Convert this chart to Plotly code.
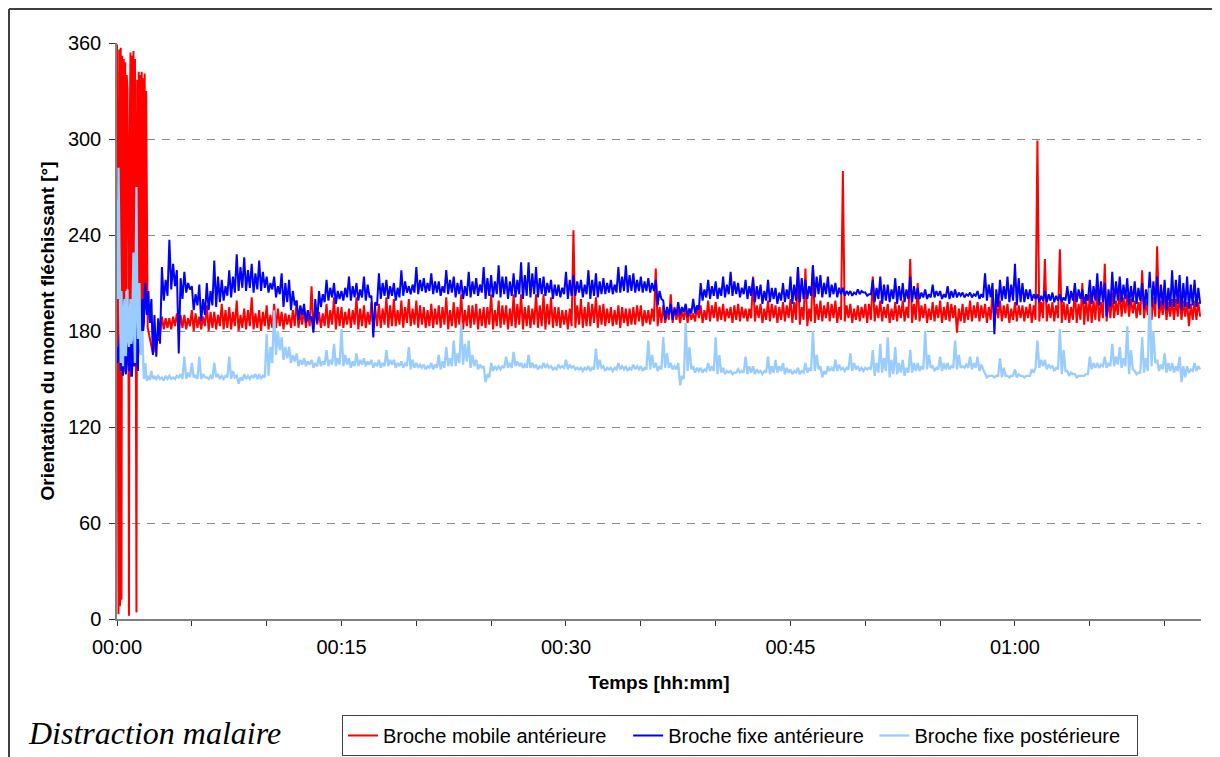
import plotly.graph_objects as go

# ---------------- data (minutes since start, degrees) ----------------
# first 2.5 minutes, read every 0.05 min
time_early = [round(0.05 * i, 2) for i in range(50)]
red_early = [359, 150, 3, 356, 8, 357, 12, 352, 190, 350,
             200, 348, 205, 340, 331, 240, 2, 300, 354, 195,
             352, 200, 355, 195, 350, 205, 4, 337, 200, 342,
             198, 340, 196, 342, 200, 338, 195, 341, 198, 330,
             185, 182, 180, 177, 175, 172, 170, 168, 166, 167]
blue_early = [170, 160, 165, 175, 178, 155, 205, 160, 152, 190,
              200, 155, 153, 185, 190, 160, 155, 180, 185, 152,
              152, 170, 188, 158, 160, 190, 195, 160, 155, 200,
              202, 170, 165, 195, 200, 180, 185, 205, 210, 195,
              190, 200, 205, 190, 185, 195, 200, 180, 165, 175]
lightblue_early = [262, 200, 282, 230, 175, 160, 205, 170, 158, 190,
                   200, 165, 165, 195, 206, 175, 170, 190, 200, 172,
                   175, 200, 229, 180, 160, 220, 270, 200, 175, 190,
                   210, 170, 165, 175, 180, 160, 150, 155, 160, 152,
                   149, 150, 152, 150, 150, 153, 155, 151, 151, 150]

# half-minute bins from 2.5 min to 72 min; per bin: highest sample, lowest sample,
# upper edge of the dense band, lower edge of the dense band
time_bins = [2.5 + 0.5 * i for i in range(140)]

red_peak = [171, 189, 188, 191, 190, 193, 189, 196, 192, 197,
            195, 199, 194, 201, 193, 196, 197, 192, 190, 199,
            194, 208, 192, 197, 201, 195, 194, 201, 196, 198,
            197, 201, 200, 199, 200, 199, 195, 197, 196, 201,
            198, 203, 196, 197, 195, 203, 199, 196, 203, 203,
            196, 203, 203, 201, 195, 193, 243, 200, 198, 201,
            197, 195, 196, 194, 195, 196, 193, 219, 196, 203,
            193, 195, 191, 196, 199, 198, 197, 195, 197, 194,
            214, 197, 199, 196, 198, 200, 220, 219, 221, 199,
            198, 199, 280, 197, 196, 197, 214, 199, 197, 198,
            199, 225, 210, 197, 198, 199, 198, 196, 197, 199,
            198, 197, 206, 199, 197, 198, 196, 197, 299, 225,
            198, 231, 197, 206, 210, 203, 207, 222, 204, 206,
            203, 199, 218, 208, 233, 202, 200, 203, 198, 199]
red_trough = [176, 181, 181, 180, 181, 180, 181, 180, 181, 181,
              181, 180, 181, 181, 180, 181, 182, 181, 182, 182,
              182, 181, 182, 182, 181, 182, 182, 181, 182, 182,
              182, 182, 183, 182, 183, 182, 182, 182, 182, 181,
              182, 181, 182, 181, 182, 181, 182, 181, 182, 181,
              182, 182, 181, 182, 182, 181, 182, 182, 183, 182,
              183, 183, 182, 183, 184, 183, 184, 183, 185, 185,
              185, 185, 186, 185, 186, 186, 186, 185, 186, 186,
              186, 185, 186, 185, 186, 185, 184, 183, 185, 186,
              186, 185, 186, 185, 186, 185, 186, 186, 185, 186,
              186, 185, 186, 185, 186, 185, 186, 179, 185, 186,
              186, 185, 186, 186, 185, 186, 186, 185, 186, 186,
              186, 185, 185, 185, 184, 185, 186, 186, 188, 189,
              189, 188, 188, 187, 188, 187, 187, 187, 183, 187]
red_band_top = [174, 188, 189, 190, 188, 191, 189, 192, 190, 193,
                192, 190, 193, 191, 192, 190, 194, 191, 193, 192,
                192, 194, 191, 193, 195, 192, 193, 194, 192, 195,
                194, 196, 193, 195, 194, 196, 193, 194, 195, 193,
                195, 193, 196, 194, 195, 193, 196, 194, 197, 195,
                194, 196, 197, 195, 193, 194, 196, 195, 197, 196,
                194, 193, 195, 194, 196, 193, 194, 195, 192, 195,
                193, 194, 195, 193, 196, 195, 194, 196, 195, 194,
                196, 194, 197, 195, 196, 198, 195, 194, 197, 196,
                197, 195, 196, 194, 195, 197, 196, 195, 194, 196,
                195, 197, 196, 194, 196, 195, 197, 194, 195, 196,
                196, 195, 197, 196, 194, 196, 195, 196, 198, 197,
                196, 198, 195, 197, 200, 199, 198, 200, 199, 201,
                200, 198, 199, 201, 199, 198, 200, 199, 197, 198]
red_band_bottom = [178, 182, 183, 182, 183, 182, 183, 182, 183, 182,
                   183, 182, 183, 182, 183, 182, 183, 184, 183, 184,
                   183, 184, 183, 184, 183, 184, 184, 183, 184, 183,
                   184, 183, 184, 185, 184, 184, 183, 184, 184, 183,
                   184, 183, 184, 183, 184, 183, 184, 183, 184, 183,
                   184, 183, 184, 183, 184, 183, 184, 183, 185, 184,
                   185, 184, 185, 184, 186, 185, 186, 185, 187, 187,
                   187, 187, 188, 187, 188, 187, 188, 187, 188, 188,
                   188, 187, 188, 187, 188, 187, 187, 186, 187, 188,
                   188, 187, 188, 187, 188, 187, 188, 188, 187, 188,
                   188, 187, 188, 187, 188, 187, 188, 186, 187, 188,
                   188, 187, 188, 188, 187, 188, 188, 187, 188, 188,
                   188, 187, 187, 187, 186, 187, 188, 188, 190, 191,
                   191, 190, 190, 189, 190, 189, 189, 189, 187, 189]

blue_peak = [190, 220, 237, 218, 217, 208, 209, 210, 224, 212,
             218, 228, 226, 222, 224, 214, 214, 216, 212, 199,
             197, 189, 205, 212, 210, 205, 214, 210, 214, 202,
             216, 212, 210, 218, 208, 220, 213, 216, 211, 218,
             214, 212, 217, 213, 220, 215, 221, 214, 216, 223,
             223, 220, 214, 212, 209, 217, 215, 212, 218, 216,
             213, 212, 220, 221, 216, 214, 213, 212, 199, 197,
             198, 197, 200, 210, 212, 211, 214, 217, 210, 212,
             213, 209, 212, 207, 210, 214, 220, 212, 221, 215,
             214, 210, 207, 205, 206, 204, 212, 214, 209, 213,
             210, 214, 207, 206, 209, 205, 208, 206, 204, 204,
             205, 216, 210, 212, 214, 222, 210, 206, 203, 205,
             204, 203, 208, 210, 206, 212, 216, 210, 217, 214,
             213, 211, 210, 217, 214, 212, 218, 215, 214, 212]
blue_trough = [164, 199, 206, 166, 204, 193, 186, 193, 195, 199,
               201, 205, 205, 204, 205, 204, 201, 195, 193, 187,
               185, 179, 195, 199, 197, 199, 199, 199, 199, 176,
               200, 200, 199, 202, 203, 203, 204, 203, 202, 203,
               201, 200, 201, 202, 200, 201, 201, 200, 201, 200,
               201, 201, 202, 200, 201, 200, 202, 201, 200, 201,
               203, 203, 204, 204, 204, 204, 204, 196, 187, 187,
               190, 189, 191, 199, 200, 200, 201, 202, 201, 200,
               198, 197, 198, 197, 198, 197, 198, 200, 201, 201,
               201, 201, 202, 202, 203, 202, 198, 197, 198, 197,
               198, 198, 200, 200, 201, 200, 200, 201, 201, 201,
               200, 199, 178, 199, 198, 196, 198, 199, 198, 198,
               198, 198, 197, 198, 197, 197, 196, 189, 197, 198,
               196, 197, 194, 195, 194, 193, 195, 193, 194, 195]
blue_band_top = [188, 212, 222, 213, 210, 203, 200, 205, 214, 208,
                 214, 220, 218, 216, 217, 210, 208, 210, 205, 196,
                 193, 200, 203, 207, 205, 207, 208, 206, 209, 198,
                 210, 208, 207, 211, 209, 212, 210, 211, 208, 212,
                 210, 208, 211, 209, 213, 211, 214, 211, 212, 215,
                 216, 213, 210, 209, 207, 212, 211, 209, 212, 211,
                 210, 209, 214, 215, 212, 211, 210, 205, 195, 194,
                 195, 194, 196, 206, 208, 207, 209, 211, 207, 208,
                 208, 205, 207, 204, 206, 209, 213, 208, 214, 210,
                 209, 207, 205, 204, 205, 203, 207, 209, 206, 208,
                 206, 208, 204, 203, 205, 203, 205, 204, 203, 203,
                 203, 209, 206, 208, 209, 213, 206, 203, 202, 203,
                 202, 201, 205, 206, 203, 208, 211, 206, 211, 209,
                 208, 207, 206, 211, 209, 207, 212, 210, 209, 207]
blue_band_bottom = [172, 202, 208, 200, 206, 196, 190, 196, 198, 202,
                    204, 207, 207, 206, 207, 206, 203, 198, 196, 190,
                    188, 185, 198, 201, 200, 201, 201, 201, 201, 196,
                    202, 202, 201, 204, 204, 205, 205, 204, 204, 204,
                    203, 202, 203, 204, 202, 203, 203, 202, 203, 202,
                    203, 203, 204, 202, 203, 202, 204, 203, 202, 203,
                    204, 204, 205, 205, 205, 205, 205, 200, 190, 190,
                    192, 191, 193, 201, 202, 202, 203, 203, 203, 202,
                    200, 199, 200, 199, 200, 199, 200, 202, 203, 203,
                    203, 203, 203, 203, 204, 203, 200, 199, 200, 199,
                    200, 200, 201, 201, 202, 201, 201, 202, 202, 202,
                    201, 201, 195, 200, 199, 198, 200, 200, 199, 199,
                    199, 199, 199, 200, 199, 199, 198, 195, 199, 200,
                    198, 199, 196, 197, 196, 195, 197, 195, 196, 197]

lightblue_peak = [152, 151, 152, 152, 164, 160, 164, 151, 160, 152,
                  164, 152, 153, 152, 153, 178, 193, 176, 170, 166,
                  163, 162, 164, 168, 172, 181, 163, 166, 163, 162,
                  162, 168, 162, 161, 170, 160, 159, 160, 165, 170,
                  174, 185, 174, 162, 158, 160, 158, 164, 167, 160,
                  165, 159, 160, 158, 159, 162, 158, 157, 158, 169,
                  158, 157, 160, 158, 159, 158, 174, 160, 176, 160,
                  160, 185, 158, 157, 160, 176, 157, 155, 156, 164,
                  158, 155, 164, 162, 160, 156, 157, 160, 180, 158,
                  158, 162, 157, 166, 158, 157, 168, 172, 176, 170,
                  162, 168, 160, 180, 158, 164, 160, 174, 158, 164,
                  164, 153, 152, 163, 152, 156, 152, 152, 174, 162,
                  158, 181, 155, 153, 152, 164, 160, 164, 172, 170,
                  183, 155, 176, 207, 162, 166, 160, 164, 158, 160]
lightblue_trough = [150, 149, 150, 151, 150, 151, 150, 150, 151, 150,
                    150, 147, 150, 151, 150, 152, 165, 162, 160, 158,
                    158, 157, 158, 158, 158, 158, 157, 158, 158, 157,
                    157, 158, 157, 157, 156, 157, 156, 156, 156, 158,
                    158, 159, 157, 156, 148, 155, 156, 157, 158, 157,
                    157, 156, 157, 156, 157, 156, 156, 155, 155, 156,
                    155, 155, 156, 155, 156, 155, 156, 155, 157, 156,
                    146, 155, 154, 154, 155, 153, 153, 153, 154, 153,
                    153, 153, 153, 154, 153, 153, 153, 154, 155, 151,
                    155, 155, 155, 155, 155, 156, 152, 154, 151, 153,
                    152, 154, 155, 156, 155, 155, 156, 156, 157, 156,
                    155, 151, 151, 151, 151, 151, 151, 156, 157, 156,
                    155, 153, 152, 151, 152, 156, 157, 157, 158, 157,
                    153, 153, 154, 158, 155, 154, 154, 148, 154, 155]
lightblue_band_top = [152, 152, 151, 153, 154, 152, 153, 152, 153, 152,
                      155, 151, 152, 153, 152, 170, 180, 170, 165, 162,
                      161, 160, 161, 162, 163, 165, 161, 162, 161, 160,
                      160, 162, 160, 160, 162, 159, 158, 159, 161, 163,
                      166, 172, 165, 159, 153, 158, 158, 160, 161, 159,
                      160, 158, 159, 157, 158, 159, 157, 157, 157, 162,
                      157, 157, 158, 157, 158, 157, 165, 158, 166, 158,
                      152, 170, 157, 156, 158, 165, 155, 154, 155, 158,
                      156, 155, 158, 158, 157, 155, 155, 157, 165, 155,
                      157, 159, 157, 160, 157, 157, 160, 163, 162, 160,
                      157, 160, 158, 165, 157, 160, 158, 165, 159, 160,
                      159, 152, 152, 157, 152, 153, 152, 154, 162, 159,
                      157, 168, 154, 152, 153, 160, 159, 160, 164, 163,
                      168, 154, 163, 180, 159, 160, 158, 158, 156, 158]
lightblue_band_bottom = [150, 150, 150, 150, 151, 150, 151, 150, 150, 151,
                         151, 149, 150, 150, 151, 160, 168, 163, 161, 159,
                         159, 158, 159, 159, 159, 159, 158, 159, 159, 158,
                         158, 159, 158, 158, 157, 157, 157, 157, 157, 158,
                         160, 161, 158, 157, 151, 156, 157, 157, 158, 157,
                         157, 157, 157, 156, 157, 157, 156, 156, 156, 157,
                         156, 156, 156, 156, 156, 156, 157, 156, 157, 156,
                         150, 156, 155, 155, 155, 154, 154, 154, 154, 154,
                         154, 154, 154, 155, 154, 154, 154, 155, 156, 153,
                         155, 156, 156, 156, 155, 156, 154, 155, 153, 154,
                         154, 155, 156, 157, 156, 156, 157, 157, 157, 157,
                         156, 152, 152, 152, 152, 152, 152, 157, 158, 157,
                         156, 155, 153, 152, 153, 157, 158, 158, 159, 158,
                         156, 154, 155, 160, 156, 155, 155, 151, 155, 156]

series_names = ["Broche mobile antérieure", "Broche fixe antérieure", "Broche fixe postérieure"]
series_colors = ["#ff0000", "#0000ff", "#99ccff"]
series_widths = [2.0, 2.0, 2.3]

x_tick_values = [0, 15, 30, 45, 60]
x_tick_labels = ["00:00", "00:15", "00:30", "00:45", "01:00"]
x_minor_ticks = [5, 10, 20, 25, 35, 40, 50, 55, 65, 70]
y_tick_values = [0, 60, 120, 180, 240, 300, 360]


def assemble(t_first, v_first, t_bin, peak, trough, band_top, band_bottom):
    assert len(t_first) == len(v_first)
    assert len(t_bin) == len(peak) == len(trough) == len(band_top) == len(band_bottom)
    xs, ys = list(t_first), list(v_first)
    for t, a, b, c, d in zip(t_bin, peak, trough, band_top, band_bottom):
        xs += [t, t + 0.125, t + 0.25, t + 0.375]
        ys += [a, b, c, d]
    return xs, ys


data = [
    assemble(time_early, red_early, time_bins, red_peak, red_trough, red_band_top, red_band_bottom),
    assemble(time_early, blue_early, time_bins, blue_peak, blue_trough, blue_band_top, blue_band_bottom),
    assemble(time_early, lightblue_early, time_bins, lightblue_peak, lightblue_trough,
             lightblue_band_top, lightblue_band_bottom),
]

# legend labels padded with non-breaking spaces so that the entries are spread like the original
legend_pad = ["\u00a0\u00a0\u00a0", "\u00a0", "\u00a0\u00a0"]

fig = go.Figure()
for (xs, ys), name, color, w, pad in zip(data, series_names, series_colors, series_widths, legend_pad):
    fig.add_trace(go.Scatter(x=xs, y=ys, mode="lines", name=name + pad,
                             line=dict(color=color, width=w)))

# the page places the figure 8 px from the window's top-left corner (default body margin)
OFF = 8
W, H = 1220 - OFF, 757 - OFF
ML, MR, MT, MB = 109, 19, 35, 138
PW, PH = W - ML - MR, H - MT - MB


def px(page_x):
    return (page_x - OFF - ML) / PW


def py(page_y):
    return (H - MB - (page_y - OFF)) / PH


SANS = "Liberation Sans, Arial, Helvetica, sans-serif"
AXIS_GREY = "#7f7f7f"

fig.update_layout(
    width=W, height=H,
    margin=dict(l=ML, r=MR, t=MT, b=MB, pad=0, autoexpand=False),
    paper_bgcolor="white", plot_bgcolor="white",
    font=dict(family=SANS, size=20, color="black"),
    showlegend=True,
    legend=dict(orientation="h", x=px(342), y=py(715), xanchor="left", yanchor="top",
                bordercolor="#404040", borderwidth=1, bgcolor="white",
                font=dict(family=SANS, size=20, color="black"),
                itemwidth=30, tracegroupgap=0),
    xaxis=dict(range=[0, 72.43], tickmode="array", tickvals=x_tick_values, ticktext=x_tick_labels,
               ticks="outside", ticklen=5, tickwidth=1, tickcolor="#333333",
               minor=dict(tickmode="array", tickvals=x_minor_ticks, ticks="outside",
                          ticklen=5, tickwidth=1, tickcolor="#333333", showgrid=False),
               showline=True, linecolor=AXIS_GREY, linewidth=1.5, showgrid=False, zeroline=False,
               automargin=False, ticklabelstandoff=4,
               tickfont=dict(family=SANS, size=20, color="black"),
               title=dict(text="<b>Temps [hh:mm]</b>", font=dict(family=SANS, size=19, color="black"),
                          standoff=19)),
    yaxis=dict(range=[0, 360], tickmode="array", tickvals=y_tick_values,
               ticks="outside", ticklen=6, tickwidth=1, tickcolor="#333333",
               showline=True, linecolor=AXIS_GREY, linewidth=1.5, zeroline=False,
               showgrid=True, gridcolor="#8c8c8c", gridwidth=1, griddash="8px,7px",
               automargin=False, ticklabelstandoff=4,
               tickfont=dict(family=SANS, size=20, color="black"),
               title=dict(text="<b>Orientation du moment fléchissant [°]</b>",
                          font=dict(family=SANS, size=19, color="black"), standoff=8)),
    shapes=[
        dict(type="line", xref="paper", yref="paper", x0=px(9), x1=px(9), y0=py(9), y1=py(780),
             line=dict(color="#404040", width=2)),
        dict(type="line", xref="paper", yref="paper", x0=px(9), x1=px(1240), y0=py(9), y1=py(9),
             line=dict(color="#404040", width=2)),
    ],
    annotations=[
        dict(text="<i>Distraction malaire</i>", xref="paper", yref="paper",
             x=px(26), y=py(733), xanchor="left", yanchor="middle", showarrow=False,
             font=dict(family="Liberation Serif, Times New Roman, serif", size=32, color="black")),
    ],
)

fig.write_html("out.html")
